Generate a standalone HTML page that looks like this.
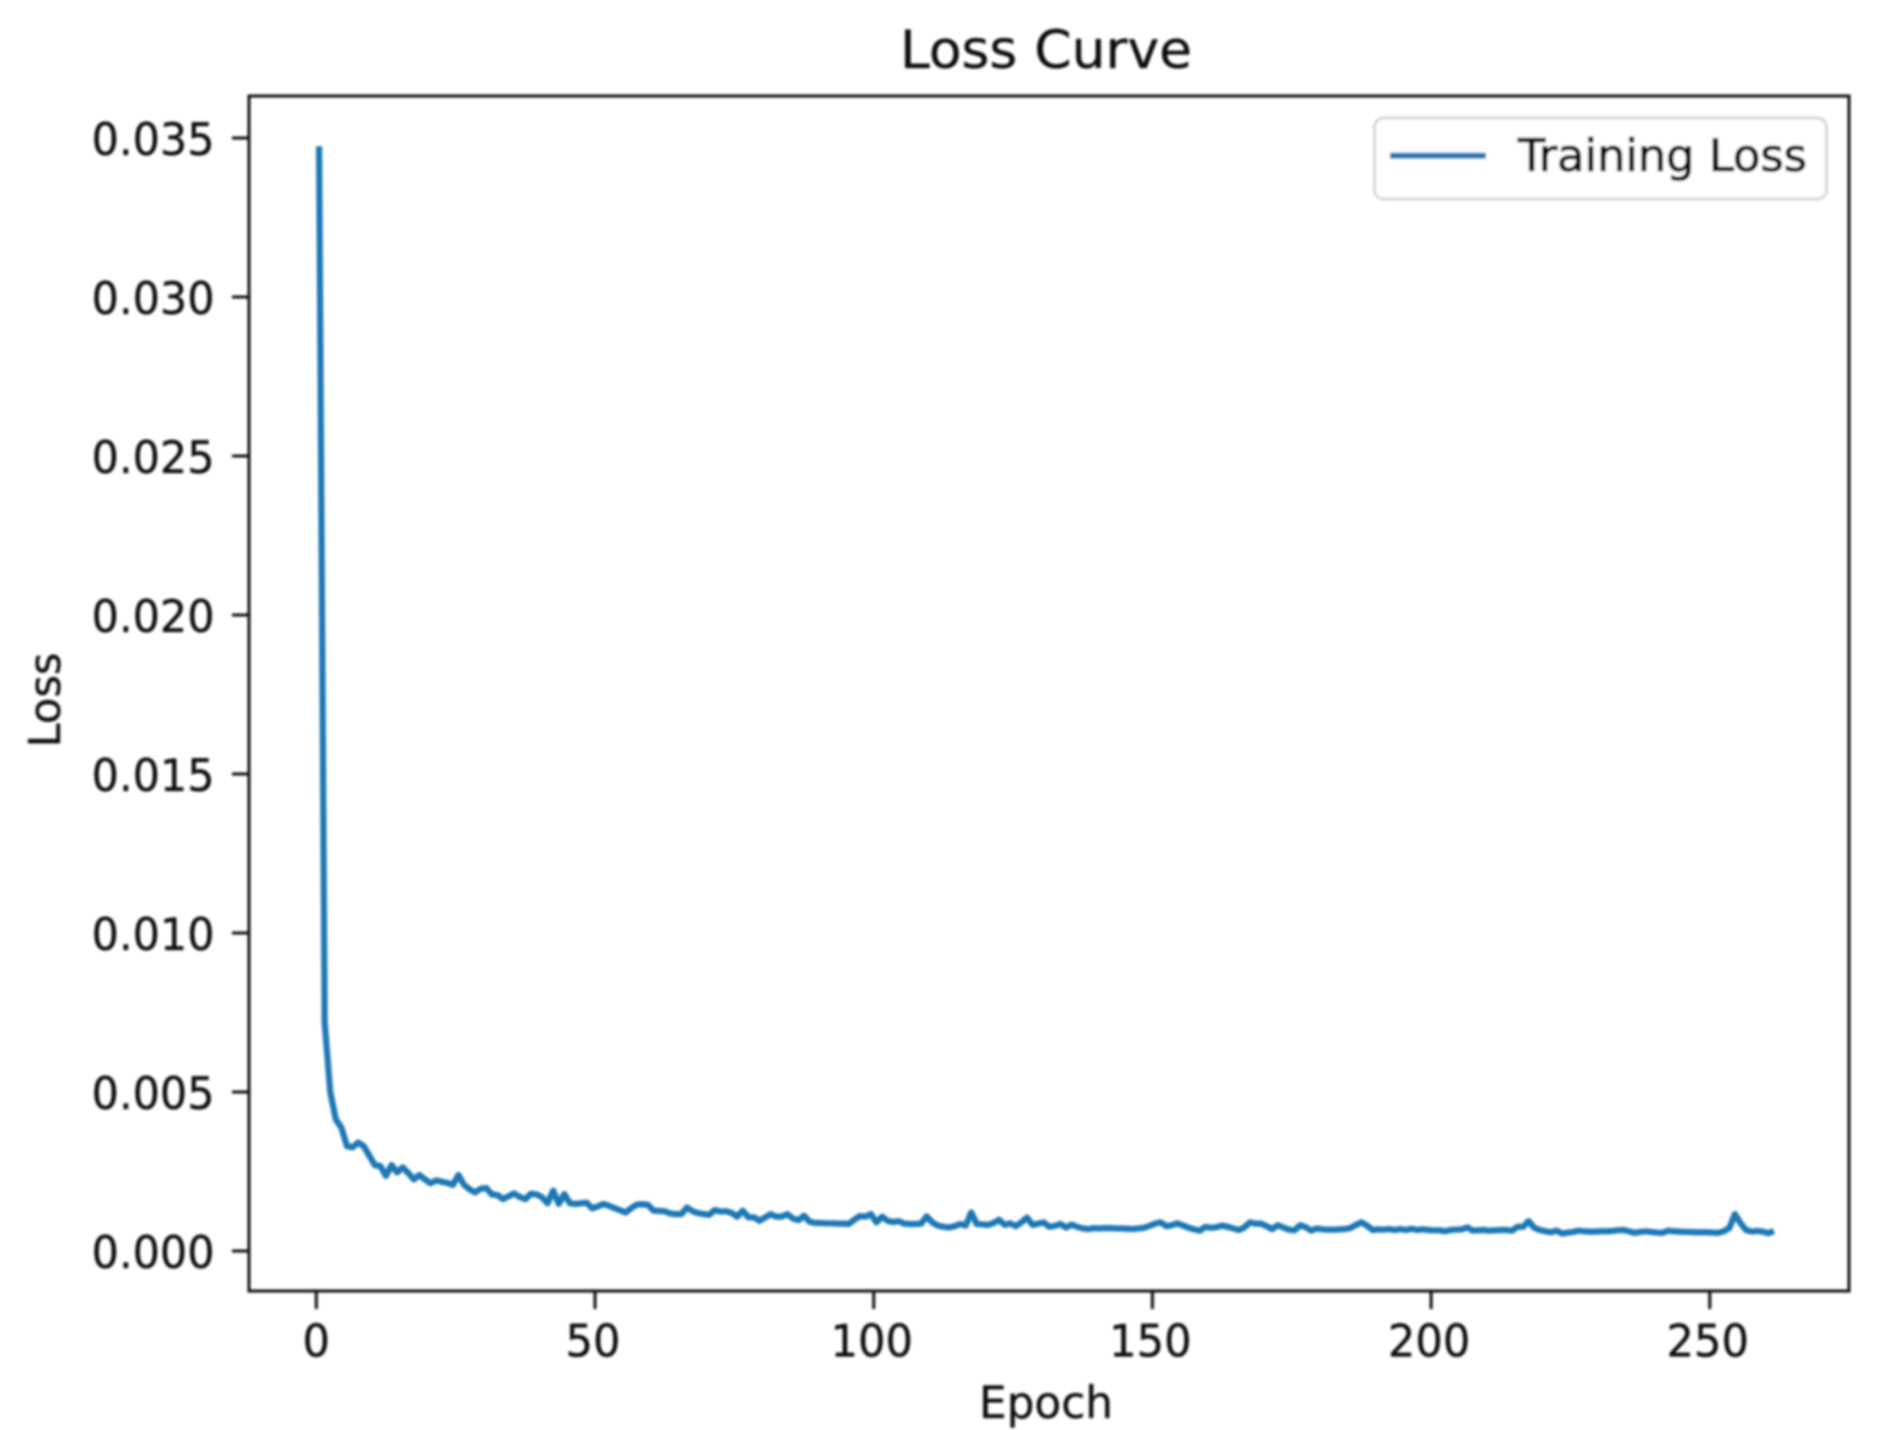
<!DOCTYPE html>
<html lang="en">
<head>
<meta charset="utf-8">
<title>Loss Curve</title>
<style>
  html, body { margin: 0; padding: 0; background: #ffffff; }
  #chart { display: block; width: 1878px; height: 1430px; }
  text { font-family: "DejaVu Sans", "Liberation Sans", sans-serif; fill: #111111; stroke: #111111; stroke-width: 0.35px; }
  #legend-label { fill: #000000; stroke: #000000; stroke-width: 1.1px; }
</style>
</head>
<body>
<svg id="chart" xmlns="http://www.w3.org/2000/svg" width="1878" height="1430" viewBox="0 0 1878 1430">
  <defs>
    <filter id="soft" filterUnits="userSpaceOnUse" x="0" y="0" width="1878" height="1430">
      <feGaussianBlur stdDeviation="1.3"></feGaussianBlur>
    </filter>
  </defs>
  <rect x="0" y="0" width="1878" height="1430" fill="#ffffff"></rect>
  <g id="root" filter="url(#soft)">
    <g id="ticks"></g>
    <path id="series" fill="none" stroke="#1f77b4" stroke-width="6.2" stroke-linejoin="round" stroke-linecap="butt"></path>
    <rect x="249" y="96" width="1600" height="1195" fill="none" stroke="#0c0c0c" stroke-width="3"></rect>
    <text x="1046" y="68" text-anchor="middle" font-size="53" textLength="292" lengthAdjust="spacingAndGlyphs">Loss Curve</text>
    <text x="1046" y="1418" text-anchor="middle" font-size="44.8" textLength="134" lengthAdjust="spacingAndGlyphs">Epoch</text>
    <text transform="translate(60,700) rotate(-90)" text-anchor="middle" font-size="44" textLength="95" lengthAdjust="spacingAndGlyphs">Loss</text>
    <g>
      <rect x="1374.5" y="118" width="452" height="81" rx="9" ry="9" fill="#ffffff" stroke="#d6d6d6" stroke-width="3"></rect>
      <line x1="1390" y1="155.7" x2="1486" y2="155.7" stroke="#1f77b4" stroke-width="6.2"></line>
      <text id="legend-label" x="1518" y="171" font-size="44.8" textLength="289" lengthAdjust="spacingAndGlyphs">Training Loss</text>
    </g>
  </g>
</svg>
<script>
const firstEpoch = 0.5;
const lossValues = [
  0.03474,0.00720,0.00500,0.00414,0.00388,0.00330,0.00326,0.00341,0.00330,0.00300,
  0.00270,0.00267,0.00236,0.00270,0.00247,0.00263,0.00245,0.00225,0.00239,0.00225,
  0.00213,0.00222,0.00218,0.00214,0.00208,0.00239,0.00208,0.00194,0.00184,0.00196,
  0.00198,0.00178,0.00176,0.00163,0.00172,0.00181,0.00170,0.00163,0.00180,0.00178,
  0.00169,0.00150,0.00190,0.00148,0.00179,0.00150,0.00148,0.00150,0.00152,0.00134,
  0.00140,0.00148,0.00142,0.00135,0.00128,0.00121,0.00135,0.00146,0.00147,0.00145,
  0.00127,0.00126,0.00125,0.00118,0.00116,0.00116,0.00137,0.00125,0.00119,0.00116,
  0.00114,0.00129,0.00124,0.00125,0.00120,0.00108,0.00127,0.00106,0.00106,0.00095,
  0.00105,0.00116,0.00108,0.00108,0.00116,0.00102,0.00097,0.00111,0.00092,0.00088,
  0.00088,0.00087,0.00087,0.00086,0.00086,0.00085,0.00098,0.00110,0.00108,0.00116,
  0.00090,0.00108,0.00095,0.00091,0.00094,0.00086,0.00085,0.00085,0.00086,0.00109,
  0.00090,0.00080,0.00076,0.00074,0.00078,0.00085,0.00080,0.00121,0.00085,0.00084,
  0.00082,0.00088,0.00098,0.00082,0.00087,0.00078,0.00090,0.00105,0.00082,0.00086,
  0.00090,0.00076,0.00079,0.00085,0.00074,0.00083,0.00076,0.00071,0.00069,0.00072,
  0.00071,0.00072,0.00072,0.00071,0.00071,0.00070,0.00069,0.00071,0.00073,0.00079,
  0.00086,0.00090,0.00078,0.00081,0.00087,0.00080,0.00073,0.00068,0.00064,0.00076,
  0.00073,0.00075,0.00080,0.00076,0.00071,0.00066,0.00074,0.00090,0.00086,0.00086,
  0.00078,0.00069,0.00081,0.00074,0.00067,0.00065,0.00081,0.00075,0.00064,0.00071,
  0.00068,0.00067,0.00067,0.00068,0.00069,0.00072,0.00082,0.00090,0.00080,0.00066,
  0.00068,0.00067,0.00069,0.00066,0.00069,0.00066,0.00070,0.00066,0.00068,0.00066,
  0.00065,0.00065,0.00062,0.00066,0.00067,0.00068,0.00074,0.00064,0.00065,0.00066,
  0.00064,0.00065,0.00066,0.00066,0.00064,0.00076,0.00076,0.00094,0.00073,0.00066,
  0.00062,0.00059,0.00064,0.00055,0.00058,0.00060,0.00064,0.00062,0.00061,0.00061,
  0.00062,0.00062,0.00063,0.00065,0.00066,0.00062,0.00057,0.00060,0.00062,0.00060,
  0.00058,0.00057,0.00064,0.00062,0.00061,0.00060,0.00060,0.00059,0.00059,0.00059,
  0.00058,0.00057,0.00062,0.00072,0.00116,0.00088,0.00066,0.00061,0.00063,0.00061,
  0.00056,0.00063
];
const xTickValues = [0, 50, 100, 150, 200, 250];
const yTickValues = [0, 0.005, 0.01, 0.015, 0.02, 0.025, 0.03, 0.035];
const yTickLabels = ["0.000", "0.005", "0.010", "0.015", "0.020", "0.025", "0.030", "0.035"];

const SVG_NS = "http://www.w3.org/2000/svg";
function xScale(epoch) { return 316.3 + 5.574 * epoch; }
function yScale(loss) { return 1251 - 31800 * loss; }

const ticksGroup = document.getElementById("ticks");

xTickValues.forEach(function (value) {
  const px = xScale(value);
  const mark = document.createElementNS(SVG_NS, "line");
  
  
  mark.setAttribute("x1", px);
  mark.setAttribute("x2", px);
  mark.setAttribute("y1", 1291);
  mark.setAttribute("y2", 1309);
  mark.setAttribute("stroke", "#0c0c0c");
  mark.setAttribute("stroke-width", "3");
  ticksGroup.appendChild(mark);

  const label = document.createElementNS(SVG_NS, "text");
  
  
  label.setAttribute("transform", "translate(" + (px - (value === 0 ? 0 : 2)) + ",1356.5) scale(0.965,1)");
  label.setAttribute("text-anchor", "middle");
  label.setAttribute("font-size", "44.8");
  label.textContent = String(value);
  ticksGroup.appendChild(label);
});

yTickValues.forEach(function (value, index) {
  const py = yScale(value);
  const mark = document.createElementNS(SVG_NS, "line");
  
  
  mark.setAttribute("x1", 232);
  mark.setAttribute("x2", 249);
  mark.setAttribute("y1", py);
  mark.setAttribute("y2", py);
  mark.setAttribute("stroke", "#0c0c0c");
  mark.setAttribute("stroke-width", "3");
  ticksGroup.appendChild(mark);

  const label = document.createElementNS(SVG_NS, "text");
  
  
  label.setAttribute("transform", "translate(214.5," + (py + 17.2) + ") scale(0.958,1)");
  label.setAttribute("text-anchor", "end");
  label.setAttribute("font-size", "44.8");
  label.textContent = yTickLabels[index];
  ticksGroup.appendChild(label);
});

const pathData = lossValues.map(function (loss, index) {
  const px = xScale(firstEpoch + index);
  const py = yScale(loss);
  return (index === 0 ? "M" : "L") + px.toFixed(2) + " " + py.toFixed(2);
}).join(" ");
document.getElementById("series").setAttribute("d", pathData);
</script>
</body>
</html>
